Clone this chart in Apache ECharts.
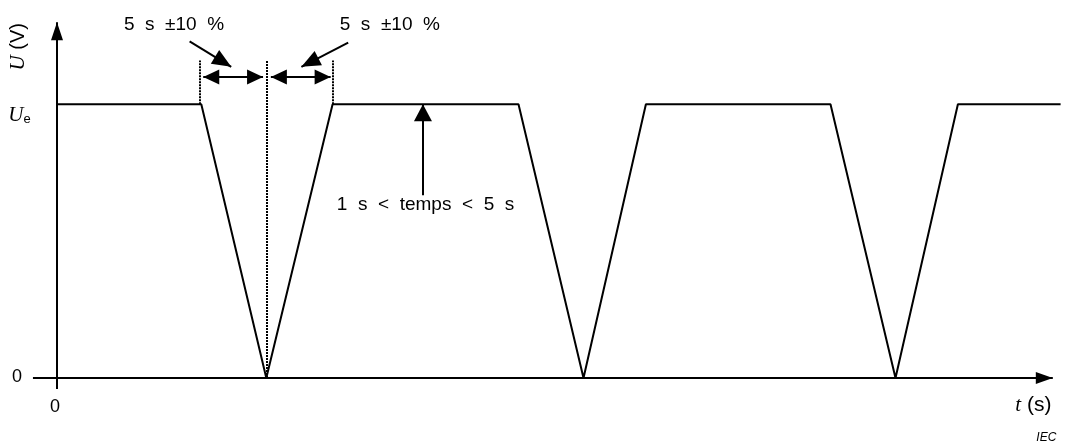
<!DOCTYPE html>
<html>
<head>
<meta charset="utf-8">
<script src="https://cdn.jsdelivr.net/npm/echarts@6/dist/echarts.min.js"></script>
<style>
  html, body { margin: 0; padding: 0; background: #fff; }
  #chart { width: 1070px; height: 443px; }
</style>
</head>
<body>
<div id="chart"></div>
<script>
// time in seconds, voltage normalised so that U_e = 1
const waveTime = [0, 11.1, 16.1, 21.2, 35.5, 40.5, 45.3, 59.5, 64.5, 69.3, 77.2];
const waveVolt = [1, 1, 0, 1, 1, 0, 1, 1, 0, 1, 1];

const xTicks = [0];
const xTickLabels = ['0'];
const yTicks = [0, 1];
const yTickLabels = ['0', 'Ue'];

// segments as [x0, y0, x1, y1], arrow tip at (x1, y1)
const axisLines = [
  [0, -0.04, 0, 1.3],
  [-1.85, 0, 76.6, 0]
];
const guideLines = [
  [11.0, 1, 11.0, 1.16],
  [16.1, 0, 16.1, 1.16],
  [21.2, 1, 21.2, 1.16]
];
const spanArrows = [
  [11.25, 1.1, 15.85, 1.1],
  [16.45, 1.1, 21.05, 1.1]
];
const pointerArrows = [
  [10.2, 1.23, 13.4, 1.137],
  [22.4, 1.225, 18.8, 1.137],
  [28.15, 0.668, 28.15, 1.0]
];

const noteText = ['5 s ±10 %', '5 s ±10 %', '1 s < temps < 5 s'];
const noteX = [9.0, 25.6, 28.35];
const noteY = [1.29, 1.29, 0.633];

const black = '#000';
const sans = '"Liberation Sans", Arial, sans-serif';
const serif = '"Liberation Serif", "Times New Roman", serif';

const chart = echarts.init(document.getElementById('chart'));

function arrowItem(seg, size, bothEnds) {
  const head = { symbol: 'triangle', symbolSize: size, symbolOffset: [0, size[1] / 2] };
  return [
    Object.assign({ coord: [seg[0], seg[1]] }, bothEnds ? head : { symbol: 'none' }),
    Object.assign({ coord: [seg[2], seg[3]] }, head)
  ];
}

function plainItem(seg) {
  return [{ coord: [seg[0], seg[1]], symbol: 'none' }, { coord: [seg[2], seg[3]], symbol: 'none' }];
}

const markLineBase = {
  silent: true,
  animation: false,
  symbol: ['none', 'none'],
  label: { show: false },
  emphasis: { disabled: true }
};

const italicRich = { i: { fontFamily: serif, fontStyle: 'italic', fontSize: 21, color: black } };

const noteItems = noteText.map((t, i) => ({
  coord: [noteX[i], noteY[i]],
  name: t,
  label: { formatter: t.replace(/ /g, '  '), fontSize: 19 }
}));

// tick labels, hung off the tick values
xTicks.forEach((v, i) => {
  noteItems.push({
    coord: [v, 0], name: xTickLabels[i],
    label: { formatter: xTickLabels[i], fontSize: 18, offset: [-2, 28.5] }
  });
});
yTicks.forEach((v, i) => {
  const s = yTickLabels[i];
  noteItems.push(s === 'Ue' ? {
    coord: [0, v], name: s,
    label: {
      formatter: '{i|U}{e|e}', offset: [-37.5, 11],
      rich: Object.assign({ e: { fontFamily: sans, fontSize: 13, color: black, padding: [9, 0, 0, 0] } }, italicRich)
    }
  } : {
    coord: [0, v], name: s,
    label: { formatter: s, fontSize: 18, offset: [-40, -1] }
  });
});

// axis titles and credit
noteItems.push({
  coord: [-3.0, 1.21], name: 'U (V)',
  label: { rotate: 90, formatter: '{i|U} (V)', fontSize: 20, rich: italicRich }
});
noteItems.push({
  coord: [75.1, -0.1], name: 't (s)',
  label: { formatter: '{i|t} (s)', fontSize: 21, rich: italicRich }
});
noteItems.push({
  coord: [76.1, -0.217], name: 'IEC',
  label: { formatter: 'IEC', fontSize: 12, fontStyle: 'italic' }
});

chart.setOption({
  animation: false,
  backgroundColor: '#fff',
  grid: { left: 5, top: 3, width: 1066, height: 438, outerBoundsMode: 'none' },
  xAxis: {
    type: 'value', min: -4, max: 78, show: false
  },
  yAxis: {
    type: 'value', min: -0.23, max: 1.37, show: false
  },
  series: [
    {
      name: 'U',
      type: 'line',
      data: waveTime.map((t, i) => [t, waveVolt[i]]),
      showSymbol: false,
      silent: true,
      lineStyle: { color: black, width: 2 },
      itemStyle: { color: black },
      markLine: Object.assign({}, markLineBase, {
        lineStyle: { color: black, width: 2, type: 'solid' },
        data: [
          ...axisLines.map((s, i) => arrowItem(s, i === 0 ? [12, 18] : [12, 17], false)),
          ...spanArrows.map(s => arrowItem(s, [15, 16], true)),
          ...pointerArrows.map((s, i) => arrowItem(s, i < 2 ? [16, 19] : [18, 17], false))
        ]
      })
    },
    {
      name: 'guides',
      type: 'line',
      data: [],
      silent: true,
      markLine: Object.assign({}, markLineBase, {
        lineStyle: { color: black, width: 2, type: [2, 1] },
        data: guideLines.map(plainItem)
      })
    },
    {
      name: 'notes',
      type: 'line',
      data: [],
      silent: true,
      markPoint: {
        silent: true,
        animation: false,
        symbol: 'circle',
        symbolSize: 1,
        itemStyle: { color: 'rgba(0,0,0,0)' },
        label: { show: true, position: 'inside', color: black, fontFamily: sans },
        data: noteItems
      }
    }
  ]
});
</script>
</body>
</html>
